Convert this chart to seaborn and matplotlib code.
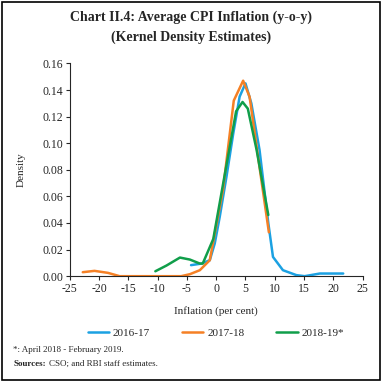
import pandas as pd
import seaborn as sns
import matplotlib.pyplot as plt
from matplotlib.patches import Rectangle

# densities
x_1617 = [-4.3, -2.5, -1.1, -0.25, 0.6, 1.75, 2.9, 4.0, 5.0, 6.0, 7.4, 8.9, 9.7, 11.4, 13.7, 15.1, 17.7, 21.7]
y_1617 = [0.0083, 0.0095, 0.012, 0.0246, 0.0446, 0.0747, 0.107, 0.135, 0.145, 0.130, 0.095, 0.040, 0.0145, 0.0045, 0.0008, 0.0, 0.002, 0.002]

x_1718 = [-22.8, -20.8, -18.5, -16.5, -10.0, -6.0, -4.5, -2.8, -1.1, 1.16, 3.0, 4.6, 5.7, 7.4, 9.0]
y_1718 = [0.003, 0.004, 0.0025, 0.0, 0.0, 0.0, 0.0015, 0.0045, 0.012, 0.065, 0.132, 0.147, 0.135, 0.082, 0.033]

x_1819 = [-10.4, -8.5, -6.2, -4.5, -2.8, -2.3, -0.5, 1.2, 3.4, 4.5, 5.4, 6.9, 8.9]
y_1819 = [0.0037, 0.008, 0.014, 0.0125, 0.0095, 0.0095, 0.028, 0.070, 0.124, 0.131, 0.126, 0.095, 0.046]

series = ["2016-17", "2017-18", "2018-19*"]
colours = ["#1BA1E2", "#F58025", "#109E4A"]

df = pd.concat([
    pd.DataFrame({"x": x_1617, "y": y_1617, "ano": series[0]}),
    pd.DataFrame({"x": x_1718, "y": y_1718, "ano": series[1]}),
    pd.DataFrame({"x": x_1819, "y": y_1819, "ano": series[2]}),
])

sns.set_style("ticks")
plt.rcParams['font.family'] = ['Liberation Serif', 'DejaVu Serif']
plt.rcParams['axes.unicode_minus'] = False

fig = plt.figure(figsize=(3.82, 3.82), dpi=100)
ax = fig.add_axes([0.183, 0.277, 0.766, 0.557])

sns.lineplot(data=df, x="x", y="y", hue="ano", palette=colours, sort=False,
             estimator=None, linewidth=1.8, ax=ax)

ax.set_xlim(-25, 25)
ax.set_ylim(0, 0.16)
ax.set_xticks(range(-25, 26, 5))
ax.set_yticks([i * 0.02 for i in range(9)])
ax.set_yticklabels([f"{i * 0.02:.2f}" for i in range(9)])
ax.tick_params(labelsize=8.5, length=3, width=0.8, pad=2)
ax.spines["top"].set_visible(False)
ax.spines["right"].set_visible(False)
ax.set_xlabel("")
ax.set_ylabel("Density", fontsize=8, labelpad=12)
fig.text(0.566, 0.178, "Inflation (per cent)", ha="center", fontsize=8)

ax.legend_.remove()
h, l = ax.get_legend_handles_labels()
fig.legend(h, series, loc="center", bbox_to_anchor=(0.565, 0.128), ncol=3,
           frameon=False, fontsize=8, handlelength=1.9, columnspacing=2.9,
           handletextpad=0.35)

fig.text(0.5, 0.945, "Chart II.4: Average CPI Inflation (y-o-y)", ha="center",
         fontsize=10, fontweight="bold")
fig.text(0.5, 0.893, "(Kernel Density Estimates)", ha="center",
         fontsize=10, fontweight="bold")

fig.text(0.035, 0.079, "*: April 2018 - February 2019.", fontsize=6.5)
t = fig.text(0.035, 0.042, "Sources:", fontsize=6.5, fontweight="bold")
r = fig.canvas.get_renderer()
bb = t.get_window_extent(renderer=r)
fig.text(bb.x1 / fig.bbox.width + 0.008, 0.042, "CSO; and RBI staff estimates.", fontsize=6.5)

fig.add_artist(Rectangle((0.004, 0.004), 0.992, 0.992, transform=fig.transFigure,
                         fill=False, edgecolor="black", linewidth=1.2))

fig.savefig("out.png", dpi=100)
